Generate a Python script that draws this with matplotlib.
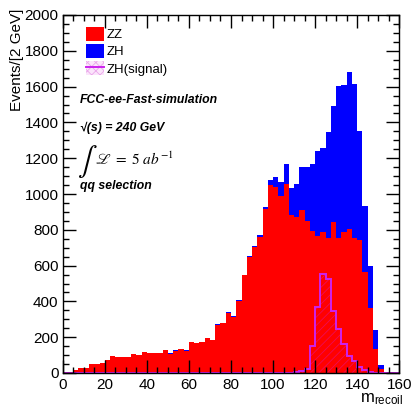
import numpy as np
import matplotlib
matplotlib.use("Agg")
import matplotlib.pyplot as plt
from matplotlib.patches import Patch
from matplotlib.lines import Line2D
from matplotlib.ticker import MultipleLocator

# ---- data (m_recoil histogram, 2.5 GeV bins from 0 to 160) ----
x_min, x_max = 0.0, 160.0
n_bins = 64

zz_counts = [3, 7, 15, 26, 30, 52, 52, 58, 73, 94,
             90, 90, 92, 108, 103, 118, 112, 114, 112, 129,
             108, 125, 134, 125, 171, 166, 171, 194, 183, 270,
             279, 335, 313, 404, 545, 650, 706, 762, 917, 1048,
             1041, 990, 1055, 883, 873, 910, 849, 796, 768, 786,
             752, 843, 756, 786, 806, 754, 741, 565, 361, 135,
             22, 3, 0, 0]

zh_counts = [0, 0, 0, 0, 0, 0, 0, 0, 0, 0,
             0, 0, 0, 0, 0, 0, 0, 0, 0, 0,
             1, 1, 1, 1, 1, 1, 1, 1, 1, 1,
             3, 3, 3, 5, 5, 5, 5, 9, 9, 30,
             52, 75, 111, 152, 183, 242, 303, 370, 473, 469,
             596, 649, 846, 821, 873, 860, 609, 368, 237, 103,
             20, 2, 0, 0]

signal_counts = [0] * 42 + [1, 2, 5, 11, 24, 151, 371, 553, 524, 349,
                            244, 160, 96, 66, 36, 18, 6, 2] + [0] * 4

legend_labels = ["ZZ", "ZH", "ZH(signal)"]
x_ticks = [0, 20, 40, 60, 80, 100, 120, 140, 160]
y_ticks = [0, 200, 400, 600, 800, 1000, 1200, 1400, 1600, 1800, 2000]

# ---- styling ----
FONT = ["Liberation Sans", "DejaVu Sans"]
plt.rcParams["font.family"] = FONT
plt.rcParams["mathtext.fontset"] = "custom"
plt.rcParams["mathtext.rm"] = "Liberation Sans"
plt.rcParams["mathtext.it"] = "Liberation Sans:italic"
plt.rcParams["hatch.linewidth"] = 0.6

W, H = 412, 408
fig = plt.figure(figsize=(W / 100, H / 100), dpi=100)
L, R, T, B = 62.7, 399.3, 15.0, 373.0
ax = fig.add_axes([L / W, 1 - B / H, (R - L) / W, (B - T) / H])

edges = np.linspace(x_min, x_max, n_bins + 1)
zz = np.array(zz_counts, float)
zh = np.array(zh_counts, float)
sig = np.array(signal_counts, float)

ax.stairs(zz + zh, edges, fill=True, color="#0000ff", linewidth=0)
ax.stairs(zz, edges, fill=True, color="#ff0000", linewidth=0)
ax.bar(edges[:-1], sig, width=np.diff(edges), align="edge",
       facecolor="none", edgecolor=(0.85, 0.1, 0.75, 0.45),
       hatch="////", linewidth=0)
sig_color = "#cc22ee"
ax.stairs(sig, edges, color=sig_color, linewidth=1.4)

ax.set_xlim(x_min, x_max)
ax.set_ylim(0, 2000)
ax.set_xticks(x_ticks)
ax.set_yticks(y_ticks)
ax.xaxis.set_minor_locator(MultipleLocator(5))
ax.yaxis.set_minor_locator(MultipleLocator(50))
ax.tick_params(which="both", direction="in", top=True, right=True,
               width=1.0, labelsize=11, colors="black")
ax.tick_params(which="major", length=9.5)
ax.tick_params(which="minor", length=4.5)
ax.tick_params(axis="x", pad=3.5)
ax.tick_params(axis="y", pad=3)
for s in ax.spines.values():
    s.set_linewidth(1.0)

# axis titles
fig.text(17.5 / W, 1 - 9 / H, "Events/[2 GeV]", rotation=90,
         ha="center", va="top", fontsize=11)
fig.text(403 / W, 1 - 399 / H, r"m$_{\mathregular{recoil}}$",
         ha="right", va="center", fontsize=12)

# legend
h_zz = Patch(facecolor="#ff0000", edgecolor="none")
h_zh = Patch(facecolor="#0000ff", edgecolor="none")
h_sig = (Patch(facecolor="#fbe4fb", edgecolor="#eaa6ea", hatch="xxxx", linewidth=0),
         Line2D([], [], color=sig_color, linewidth=1.4))
ax.legend([h_zz, h_zh, h_sig], legend_labels, loc="upper left",
          bbox_to_anchor=((86 - L) / (R - L), 1 - (27 - T) / (B - T)),
          frameon=False, fontsize=9.5, handlelength=1.4, handleheight=1.25,
          handletextpad=0.15, labelspacing=0.2, borderaxespad=0, borderpad=0)

# annotations
def px(x, y):
    return (x - L) / (R - L), 1 - (y - T) / (B - T)

ax.text(*px(80, 100), "FCC-ee-Fast-simulation", transform=ax.transAxes,
        fontsize=8.8, fontweight="bold", fontstyle="italic", va="center", ha="left")
ax.text(*px(80, 128), "\u221a(s) = 240 GeV", transform=ax.transAxes,
        fontsize=8.8, fontweight="bold", fontstyle="italic", va="center", ha="left")
ax.text(*px(77, 161), r"$\int$", transform=ax.transAxes, fontsize=21,
        va="center", ha="left", math_fontfamily="stix")
ax.text(*px(95, 159), r"$\mathscr{L}\ =\ 5\ ab^{-1}$", transform=ax.transAxes,
        fontsize=11, va="center", ha="left", math_fontfamily="stix")
ax.text(*px(80, 186), "qq selection", transform=ax.transAxes,
        fontsize=8.8, fontweight="bold", fontstyle="italic", va="center", ha="left")

fig.savefig("out.png", dpi=100, facecolor="white")
